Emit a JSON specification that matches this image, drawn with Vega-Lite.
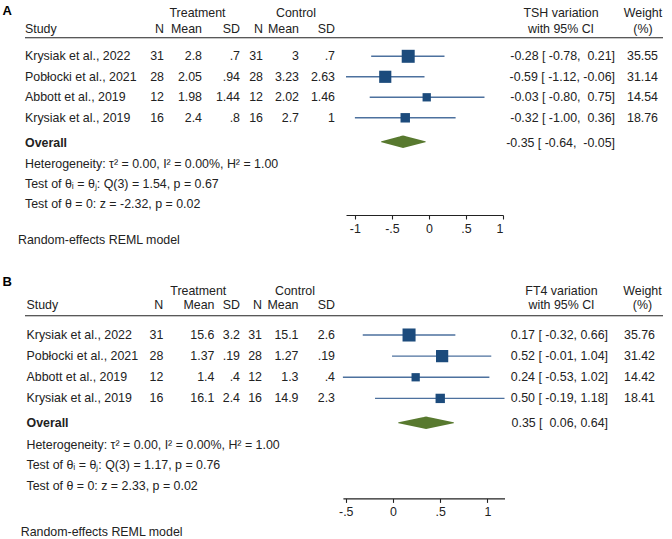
{
  "$schema": "https://vega.github.io/schema/vega-lite/v6.json",
  "background": "white",
  "padding": {"left": 2, "right": 0, "top": 2, "bottom": 0},
  "config": {
    "view": {"stroke": null},
    "text": {"font": "Liberation Sans", "fontSize": 12.4, "color": "#222222"},
    "axis": {"labelFont": "Liberation Sans"}
  },
  "spacing": 65,
  "bounds": "flush",
  "datasets": {
    "a_head": [
      {"line": "panel", "col": "panel", "text": "A"},
      {"line": "h1", "col": "treat", "text": "Treatment"},
      {"line": "h1", "col": "ctrl", "text": "Control"},
      {"line": "h1", "col": "ci", "text": "TSH variation"},
      {"line": "h1", "col": "wt", "text": "Weight"},
      {"line": "h2", "col": "study", "text": "Study"},
      {"line": "h2", "col": "n_t", "text": "N"},
      {"line": "h2", "col": "mean_t", "text": "Mean"},
      {"line": "h2", "col": "sd_t", "text": "SD"},
      {"line": "h2", "col": "n_c", "text": "N"},
      {"line": "h2", "col": "mean_c", "text": "Mean"},
      {"line": "h2", "col": "sd_c", "text": "SD"},
      {"line": "h2", "col": "ci", "text": "with 95% CI"},
      {"line": "h2", "col": "wt", "text": "(%)"}
    ],
    "a_studies": [
      {"study": "Krysiak et al., 2022", "n_t": 31, "mean_t": "2.8", "sd_t": ".7", "n_c": 31, "mean_c": "3", "sd_c": ".7", "es": -0.28, "lo": -0.78, "hi": 0.21, "ci": "-0.28 [ -0.78,\u00a0 0.21]", "weight": 35.55},
      {"study": "Pobłocki et al., 2021", "n_t": 28, "mean_t": "2.05", "sd_t": ".94", "n_c": 28, "mean_c": "3.23", "sd_c": "2.63", "es": -0.59, "lo": -1.12, "hi": -0.06, "ci": "-0.59 [ -1.12, -0.06]", "weight": 31.14},
      {"study": "Abbott et al., 2019", "n_t": 12, "mean_t": "1.98", "sd_t": "1.44", "n_c": 12, "mean_c": "2.02", "sd_c": "1.46", "es": -0.03, "lo": -0.80, "hi": 0.75, "ci": "-0.03 [ -0.80,\u00a0 0.75]", "weight": 14.54},
      {"study": "Krysiak et al., 2019", "n_t": 16, "mean_t": "2.4", "sd_t": ".8", "n_c": 16, "mean_c": "2.7", "sd_c": "1", "es": -0.32, "lo": -1.00, "hi": 0.36, "ci": "-0.32 [ -1.00,\u00a0 0.36]", "weight": 18.76}
    ],
    "a_overall": [
      {"label": "Overall", "es": -0.35, "lo": -0.64, "hi": -0.05, "ci": "-0.35 [ -0.64,\u00a0 -0.05]"}
    ],
    "a_notes": [
      {"line": "het", "text": "Heterogeneity: τ² = 0.00, I² = 0.00%, H² = 1.00"},
      {"line": "q", "text": "Test of θᵢ = θⱼ: Q(3) = 1.54, p = 0.67"},
      {"line": "z", "text": "Test of θ = 0: z = -2.32, p = 0.02"},
      {"line": "model", "text": "Random-effects REML model"}
    ],
    "b_head": [
      {"line": "panel", "col": "panel", "text": "B"},
      {"line": "h1", "col": "treat", "text": "Treatment"},
      {"line": "h1", "col": "ctrl", "text": "Control"},
      {"line": "h1", "col": "ci", "text": "FT4 variation"},
      {"line": "h1", "col": "wt", "text": "Weight"},
      {"line": "h2", "col": "study", "text": "Study"},
      {"line": "h2", "col": "n_t", "text": "N"},
      {"line": "h2", "col": "mean_t", "text": "Mean"},
      {"line": "h2", "col": "sd_t", "text": "SD"},
      {"line": "h2", "col": "n_c", "text": "N"},
      {"line": "h2", "col": "mean_c", "text": "Mean"},
      {"line": "h2", "col": "sd_c", "text": "SD"},
      {"line": "h2", "col": "ci", "text": "with 95% CI"},
      {"line": "h2", "col": "wt", "text": "(%)"}
    ],
    "b_studies": [
      {"study": "Krysiak et al., 2022", "n_t": 31, "mean_t": "15.6", "sd_t": "3.2", "n_c": 31, "mean_c": "15.1", "sd_c": "2.6", "es": 0.17, "lo": -0.32, "hi": 0.66, "ci": "0.17 [ -0.32, 0.66]", "weight": 35.76},
      {"study": "Pobłocki et al., 2021", "n_t": 28, "mean_t": "1.37", "sd_t": ".19", "n_c": 28, "mean_c": "1.27", "sd_c": ".19", "es": 0.52, "lo": -0.01, "hi": 1.04, "ci": "0.52 [ -0.01, 1.04]", "weight": 31.42},
      {"study": "Abbott et al., 2019", "n_t": 12, "mean_t": "1.4", "sd_t": ".4", "n_c": 12, "mean_c": "1.3", "sd_c": ".4", "es": 0.24, "lo": -0.53, "hi": 1.02, "ci": "0.24 [ -0.53, 1.02]", "weight": 14.42},
      {"study": "Krysiak et al., 2019", "n_t": 16, "mean_t": "16.1", "sd_t": "2.4", "n_c": 16, "mean_c": "14.9", "sd_c": "2.3", "es": 0.50, "lo": -0.19, "hi": 1.18, "ci": "0.50 [ -0.19, 1.18]", "weight": 18.41}
    ],
    "b_overall": [
      {"label": "Overall", "es": 0.35, "lo": 0.06, "hi": 0.64, "ci": "0.35 [\u00a0 0.06, 0.64]"}
    ],
    "b_notes": [
      {"line": "het", "text": "Heterogeneity: τ² = 0.00, I² = 0.00%, H² = 1.00"},
      {"line": "q", "text": "Test of θᵢ = θⱼ: Q(3) = 1.17, p = 0.76"},
      {"line": "z", "text": "Test of θ = 0: z = 2.33, p = 0.02"},
      {"line": "model", "text": "Random-effects REML model"}
    ]
  },
  "vconcat": [
    {
      "width": 638,
      "height": 213,
      "resolve": {"scale": {"x": "independent", "y": "independent", "size": "independent"}},
      "layer": [
        {"data": {"name": "a_head"}, "transform": [{"filter": "datum.col == 'panel'"}],
         "mark": {"type": "text", "align": "left", "fontWeight": "bold", "fontSize": 13, "color": "#000000"},
         "encoding": {
           "x": {"field": "col", "type": "nominal", "scale": {"type": "point", "domain": ["panel"], "range": [-22.5, -22.5], "padding": 0}, "axis": null},
           "y": {"field": "line", "type": "nominal", "scale": {"type": "point", "domain": ["panel"], "range": [9, 9], "padding": 0}, "axis": null},
           "text": {"field": "text"}}},
        {"data": {"name": "a_head"}, "transform": [{"filter": "datum.col == 'study'"}],
         "mark": {"type": "rule", "color": "#222222", "strokeWidth": 1.1},
         "encoding": {"y": {"datum": "rule", "type": "nominal", "scale": {"type": "point", "domain": ["rule"], "range": [35.7, 35.7], "padding": 0}, "axis": null}}},
        {"data": {"name": "a_head"}, "transform": [{"filter": {"field": "col", "oneOf": ["treat", "ctrl"]}}],
         "mark": {"type": "text", "align": "center"},
         "encoding": {
           "x": {"field": "col", "type": "nominal", "scale": {"type": "point", "domain": ["treat", "ctrl"], "range": [172.5, 271], "padding": 0}, "axis": null},
           "y": {"field": "line", "type": "nominal", "scale": {"type": "point", "domain": ["h1", "h2"], "range": [10.7, 26.7], "padding": 0}, "axis": null},
           "text": {"field": "text"}}},
        {"data": {"name": "a_head"}, "transform": [{"filter": {"field": "col", "oneOf": ["ci", "wt"]}}],
         "mark": {"type": "text", "align": "center"},
         "encoding": {
           "x": {"field": "col", "type": "nominal", "scale": {"type": "point", "domain": ["ci", "wt"], "range": [536, 618], "padding": 0}, "axis": null},
           "y": {"field": "line", "type": "nominal", "scale": {"type": "point", "domain": ["h1", "h2"], "range": [10.7, 26.7], "padding": 0}, "axis": null},
           "text": {"field": "text"}}},
        {"data": {"name": "a_head"}, "transform": [{"filter": "datum.col == 'study'"}],
         "mark": {"type": "text", "align": "left"},
         "encoding": {
           "x": {"field": "col", "type": "nominal", "scale": {"type": "point", "domain": ["study"], "range": [0, 0], "padding": 0}, "axis": null},
           "y": {"field": "line", "type": "nominal", "scale": {"type": "point", "domain": ["h1", "h2"], "range": [10.7, 26.7], "padding": 0}, "axis": null},
           "text": {"field": "text"}}},
        {"data": {"name": "a_head"}, "transform": [{"filter": {"field": "col", "oneOf": ["n_t", "mean_t", "sd_t"]}}],
         "mark": {"type": "text", "align": "right"},
         "encoding": {
           "x": {"field": "col", "type": "nominal", "scale": {"type": "point", "domain": ["n_t", "mean_t", "sd_t"], "range": [139, 215], "padding": 0}, "axis": null},
           "y": {"field": "line", "type": "nominal", "scale": {"type": "point", "domain": ["h1", "h2"], "range": [10.7, 26.7], "padding": 0}, "axis": null},
           "text": {"field": "text"}}},
        {"data": {"name": "a_head"}, "transform": [{"filter": {"field": "col", "oneOf": ["n_c", "mean_c", "sd_c"]}}],
         "mark": {"type": "text", "align": "right"},
         "encoding": {
           "x": {"field": "col", "type": "nominal", "scale": {"type": "point", "domain": ["n_c", "mean_c", "sd_c"], "range": [238, 310], "padding": 0}, "axis": null},
           "y": {"field": "line", "type": "nominal", "scale": {"type": "point", "domain": ["h1", "h2"], "range": [10.7, 26.7], "padding": 0}, "axis": null},
           "text": {"field": "text"}}},
        {"data": {"name": "a_studies"}, "transform": [{"fold": ["study"], "as": ["key", "val"]}],
         "mark": {"type": "text", "align": "left"},
         "encoding": {
           "x": {"field": "key", "type": "nominal", "scale": {"type": "point", "domain": ["study"], "range": [0, 0], "padding": 0}, "axis": null},
           "y": {"field": "study", "type": "nominal", "scale": {"type": "point", "domain": ["Krysiak et al., 2022", "Pobłocki et al., 2021", "Abbott et al., 2019", "Krysiak et al., 2019"], "range": [54.3, 115.8], "padding": 0}, "axis": null},
           "text": {"field": "val", "type": "nominal"}}},
        {"data": {"name": "a_studies"}, "transform": [{"fold": ["n_t", "mean_t", "sd_t"], "as": ["key", "val"]}],
         "mark": {"type": "text", "align": "right"},
         "encoding": {
           "x": {"field": "key", "type": "nominal", "scale": {"type": "point", "domain": ["n_t", "mean_t", "sd_t"], "range": [139, 215], "padding": 0}, "axis": null},
           "y": {"field": "study", "type": "nominal", "scale": {"type": "point", "domain": ["Krysiak et al., 2022", "Pobłocki et al., 2021", "Abbott et al., 2019", "Krysiak et al., 2019"], "range": [54.3, 115.8], "padding": 0}, "axis": null},
           "text": {"field": "val", "type": "nominal"}}},
        {"data": {"name": "a_studies"}, "transform": [{"fold": ["n_c", "mean_c", "sd_c"], "as": ["key", "val"]}],
         "mark": {"type": "text", "align": "right"},
         "encoding": {
           "x": {"field": "key", "type": "nominal", "scale": {"type": "point", "domain": ["n_c", "mean_c", "sd_c"], "range": [238, 310], "padding": 0}, "axis": null},
           "y": {"field": "study", "type": "nominal", "scale": {"type": "point", "domain": ["Krysiak et al., 2022", "Pobłocki et al., 2021", "Abbott et al., 2019", "Krysiak et al., 2019"], "range": [54.3, 115.8], "padding": 0}, "axis": null},
           "text": {"field": "val", "type": "nominal"}}},
        {"data": {"name": "a_studies"}, "transform": [{"fold": ["ci", "weight"], "as": ["key", "val"]}],
         "mark": {"type": "text", "align": "right"},
         "encoding": {
           "x": {"field": "key", "type": "nominal", "scale": {"type": "point", "domain": ["ci", "weight"], "range": [590, 633], "padding": 0}, "axis": null},
           "y": {"field": "study", "type": "nominal", "scale": {"type": "point", "domain": ["Krysiak et al., 2022", "Pobłocki et al., 2021", "Abbott et al., 2019", "Krysiak et al., 2019"], "range": [54.3, 115.8], "padding": 0}, "axis": null},
           "text": {"field": "val", "type": "nominal"}}},
        {"data": {"name": "a_overall"}, "transform": [{"fold": ["label"], "as": ["key", "val"]}],
         "mark": {"type": "text", "align": "left", "fontWeight": "bold"},
         "encoding": {
           "x": {"field": "key", "type": "nominal", "scale": {"type": "point", "domain": ["label"], "range": [0, 0], "padding": 0}, "axis": null},
           "y": {"field": "label", "type": "nominal", "scale": {"type": "point", "domain": ["Overall"], "range": [140.7, 140.7], "padding": 0}, "axis": null},
           "text": {"field": "val", "type": "nominal"}}},
        {"data": {"name": "a_overall"}, "transform": [{"fold": ["ci"], "as": ["key", "val"]}],
         "mark": {"type": "text", "align": "right"},
         "encoding": {
           "x": {"field": "key", "type": "nominal", "scale": {"type": "point", "domain": ["ci", "weight"], "range": [590, 633], "padding": 0}, "axis": null},
           "y": {"field": "label", "type": "nominal", "scale": {"type": "point", "domain": ["Overall"], "range": [140.7, 140.7], "padding": 0}, "axis": null},
           "text": {"field": "val", "type": "nominal"}}},
        {"data": {"name": "a_notes"}, "transform": [{"filter": "datum.line != 'model'"}, {"fold": ["text"], "as": ["key", "val"]}],
         "mark": {"type": "text", "align": "left"},
         "encoding": {
           "x": {"field": "key", "type": "nominal", "scale": {"type": "point", "domain": ["text"], "range": [0, 0], "padding": 0}, "axis": null},
           "y": {"field": "line", "type": "nominal", "scale": {"type": "point", "domain": ["het", "q", "z"], "range": [161.7, 201.7], "padding": 0}, "axis": null},
           "text": {"field": "val", "type": "nominal"}}},
        {"data": {"name": "a_notes"}, "transform": [{"filter": "datum.line == 'model'"}, {"fold": ["text"], "as": ["key", "val"]}],
         "mark": {"type": "text", "align": "left"},
         "encoding": {
           "x": {"field": "key", "type": "nominal", "scale": {"type": "point", "domain": ["text"], "range": [-7, -7], "padding": 0}, "axis": null},
           "y": {"field": "line", "type": "nominal", "scale": {"type": "point", "domain": ["model"], "range": [238.3, 238.3], "padding": 0}, "axis": null},
           "text": {"field": "val", "type": "nominal"}}},
        {"data": {"name": "a_studies"},
         "mark": {"type": "rule", "color": "#4d719e", "strokeWidth": 1.4},
         "encoding": {
           "x": {"field": "lo", "type": "quantitative", "scale": {"domain": [-1.12, 1], "range": [321, 478], "nice": false, "zero": false},
                 "axis": {"orient": "bottom", "values": [-1, -0.5, 0, 0.5, 1], "labelExpr": "datum.value == -1 ? '-1' : datum.value == -0.5 ? '-.5' : datum.value == 0.5 ? '.5' : datum.value == 1 ? '1' : '0'", "title": null, "grid": false, "domainColor": "#222222", "tickColor": "#222222", "labelColor": "#222222", "labelFontSize": 12.4, "tickSize": 4, "labelPadding": 3, "domainWidth": 1.1, "tickWidth": 1.1}},
           "x2": {"field": "hi"},
           "y": {"field": "study", "type": "nominal", "scale": {"type": "point", "domain": ["Krysiak et al., 2022", "Pobłocki et al., 2021", "Abbott et al., 2019", "Krysiak et al., 2019"], "range": [54.3, 115.8], "padding": 0}, "axis": null}}},
        {"data": {"name": "a_studies"},
         "mark": {"type": "point", "shape": "square", "filled": true, "color": "#1c4b7c", "opacity": 1},
         "encoding": {
           "x": {"field": "es", "type": "quantitative", "scale": {"domain": [-1.12, 1], "range": [321, 478], "nice": false, "zero": false}, "axis": null},
           "y": {"field": "study", "type": "nominal", "scale": {"type": "point", "domain": ["Krysiak et al., 2022", "Pobłocki et al., 2021", "Abbott et al., 2019", "Krysiak et al., 2019"], "range": [54.3, 115.8], "padding": 0}, "axis": null},
           "size": {"field": "weight", "type": "quantitative", "scale": {"domain": [0, 40], "range": [0, 190], "zero": true}, "legend": null}}},
        {"data": {"name": "a_overall"}, "transform": [{"fold": ["lo", "es", "hi"], "as": ["k", "v"]}],
         "mark": {"type": "trail", "color": "#58792f"},
         "encoding": {
           "x": {"field": "v", "type": "quantitative", "scale": {"domain": [-1.12, 1], "range": [321, 478], "nice": false, "zero": false}, "axis": null},
           "y": {"field": "label", "type": "nominal", "scale": {"type": "point", "domain": ["Overall"], "range": [139.7, 139.7], "padding": 0}, "axis": null},
           "size": {"field": "k", "type": "ordinal", "scale": {"type": "ordinal", "domain": ["lo", "es", "hi"], "range": [0, 12.5, 0]}, "legend": null},
           "order": {"field": "v", "type": "quantitative"}}}
      ]
    },
    {
      "width": 638,
      "height": 218.4,
      "resolve": {"scale": {"x": "independent", "y": "independent", "size": "independent"}},
      "layer": [
        {"data": {"name": "b_head"}, "transform": [{"filter": "datum.col == 'panel'"}],
         "mark": {"type": "text", "align": "left", "fontWeight": "bold", "fontSize": 13, "color": "#000000"},
         "encoding": {
           "x": {"field": "col", "type": "nominal", "scale": {"type": "point", "domain": ["panel"], "range": [-22.5, -22.5], "padding": 0}, "axis": null},
           "y": {"field": "line", "type": "nominal", "scale": {"type": "point", "domain": ["panel"], "range": [1.7, 1.7], "padding": 0}, "axis": null},
           "text": {"field": "text"}}},
        {"data": {"name": "b_head"}, "transform": [{"filter": "datum.col == 'study'"}],
         "mark": {"type": "rule", "color": "#222222", "strokeWidth": 1.1},
         "encoding": {"y": {"datum": "rule", "type": "nominal", "scale": {"type": "point", "domain": ["rule"], "range": [35.7, 35.7], "padding": 0}, "axis": null}}},
        {"data": {"name": "b_head"}, "transform": [{"filter": {"field": "col", "oneOf": ["treat", "ctrl"]}}],
         "mark": {"type": "text", "align": "center"},
         "encoding": {
           "x": {"field": "col", "type": "nominal", "scale": {"type": "point", "domain": ["treat", "ctrl"], "range": [173.3, 270], "padding": 0}, "axis": null},
           "y": {"field": "line", "type": "nominal", "scale": {"type": "point", "domain": ["h1", "h2"], "range": [10.7, 25], "padding": 0}, "axis": null},
           "text": {"field": "text"}}},
        {"data": {"name": "b_head"}, "transform": [{"filter": {"field": "col", "oneOf": ["ci", "wt"]}}],
         "mark": {"type": "text", "align": "center"},
         "encoding": {
           "x": {"field": "col", "type": "nominal", "scale": {"type": "point", "domain": ["ci", "wt"], "range": [536.5, 617.5], "padding": 0}, "axis": null},
           "y": {"field": "line", "type": "nominal", "scale": {"type": "point", "domain": ["h1", "h2"], "range": [10.7, 25], "padding": 0}, "axis": null},
           "text": {"field": "text"}}},
        {"data": {"name": "b_head"}, "transform": [{"filter": "datum.col == 'study'"}],
         "mark": {"type": "text", "align": "left"},
         "encoding": {
           "x": {"field": "col", "type": "nominal", "scale": {"type": "point", "domain": ["study"], "range": [1.5, 1.5], "padding": 0}, "axis": null},
           "y": {"field": "line", "type": "nominal", "scale": {"type": "point", "domain": ["h1", "h2"], "range": [10.7, 25], "padding": 0}, "axis": null},
           "text": {"field": "text"}}},
        {"data": {"name": "b_head"}, "transform": [{"filter": {"field": "col", "oneOf": ["n_t", "mean_t", "sd_t"]}}],
         "mark": {"type": "text", "align": "right"},
         "encoding": {
           "x": {"field": "col", "type": "nominal", "scale": {"type": "point", "domain": ["n_t", "gap_t", "mean_t", "sd_t"], "range": [138.3, 215], "padding": 0}, "axis": null},
           "y": {"field": "line", "type": "nominal", "scale": {"type": "point", "domain": ["h1", "h2"], "range": [10.7, 25], "padding": 0}, "axis": null},
           "text": {"field": "text"}}},
        {"data": {"name": "b_head"}, "transform": [{"filter": {"field": "col", "oneOf": ["n_c", "mean_c", "sd_c"]}}],
         "mark": {"type": "text", "align": "right"},
         "encoding": {
           "x": {"field": "col", "type": "nominal", "scale": {"type": "point", "domain": ["n_c", "mean_c", "sd_c"], "range": [237, 310], "padding": 0}, "axis": null},
           "y": {"field": "line", "type": "nominal", "scale": {"type": "point", "domain": ["h1", "h2"], "range": [10.7, 25], "padding": 0}, "axis": null},
           "text": {"field": "text"}}},
        {"data": {"name": "b_studies"}, "transform": [{"fold": ["study"], "as": ["key", "val"]}],
         "mark": {"type": "text", "align": "left"},
         "encoding": {
           "x": {"field": "key", "type": "nominal", "scale": {"type": "point", "domain": ["study"], "range": [1.5, 1.5], "padding": 0}, "axis": null},
           "y": {"field": "study", "type": "nominal", "scale": {"type": "point", "domain": ["Krysiak et al., 2022", "Pobłocki et al., 2021", "Abbott et al., 2019", "Krysiak et al., 2019"], "range": [55, 118.4], "padding": 0}, "axis": null},
           "text": {"field": "val", "type": "nominal"}}},
        {"data": {"name": "b_studies"}, "transform": [{"fold": ["n_t", "mean_t", "sd_t"], "as": ["key", "val"]}],
         "mark": {"type": "text", "align": "right"},
         "encoding": {
           "x": {"field": "key", "type": "nominal", "scale": {"type": "point", "domain": ["n_t", "gap_t", "mean_t", "sd_t"], "range": [138.3, 215], "padding": 0}, "axis": null},
           "y": {"field": "study", "type": "nominal", "scale": {"type": "point", "domain": ["Krysiak et al., 2022", "Pobłocki et al., 2021", "Abbott et al., 2019", "Krysiak et al., 2019"], "range": [55, 118.4], "padding": 0}, "axis": null},
           "text": {"field": "val", "type": "nominal"}}},
        {"data": {"name": "b_studies"}, "transform": [{"fold": ["n_c", "mean_c", "sd_c"], "as": ["key", "val"]}],
         "mark": {"type": "text", "align": "right"},
         "encoding": {
           "x": {"field": "key", "type": "nominal", "scale": {"type": "point", "domain": ["n_c", "mean_c", "sd_c"], "range": [237, 310], "padding": 0}, "axis": null},
           "y": {"field": "study", "type": "nominal", "scale": {"type": "point", "domain": ["Krysiak et al., 2022", "Pobłocki et al., 2021", "Abbott et al., 2019", "Krysiak et al., 2019"], "range": [55, 118.4], "padding": 0}, "axis": null},
           "text": {"field": "val", "type": "nominal"}}},
        {"data": {"name": "b_studies"}, "transform": [{"fold": ["ci", "weight"], "as": ["key", "val"]}],
         "mark": {"type": "text", "align": "right"},
         "encoding": {
           "x": {"field": "key", "type": "nominal", "scale": {"type": "point", "domain": ["ci", "weight"], "range": [583, 630], "padding": 0}, "axis": null},
           "y": {"field": "study", "type": "nominal", "scale": {"type": "point", "domain": ["Krysiak et al., 2022", "Pobłocki et al., 2021", "Abbott et al., 2019", "Krysiak et al., 2019"], "range": [55, 118.4], "padding": 0}, "axis": null},
           "text": {"field": "val", "type": "nominal"}}},
        {"data": {"name": "b_overall"}, "transform": [{"fold": ["label"], "as": ["key", "val"]}],
         "mark": {"type": "text", "align": "left", "fontWeight": "bold"},
         "encoding": {
           "x": {"field": "key", "type": "nominal", "scale": {"type": "point", "domain": ["label"], "range": [1.5, 1.5], "padding": 0}, "axis": null},
           "y": {"field": "label", "type": "nominal", "scale": {"type": "point", "domain": ["Overall"], "range": [143.4, 143.4], "padding": 0}, "axis": null},
           "text": {"field": "val", "type": "nominal"}}},
        {"data": {"name": "b_overall"}, "transform": [{"fold": ["ci"], "as": ["key", "val"]}],
         "mark": {"type": "text", "align": "right"},
         "encoding": {
           "x": {"field": "key", "type": "nominal", "scale": {"type": "point", "domain": ["ci", "weight"], "range": [583, 630], "padding": 0}, "axis": null},
           "y": {"field": "label", "type": "nominal", "scale": {"type": "point", "domain": ["Overall"], "range": [143.4, 143.4], "padding": 0}, "axis": null},
           "text": {"field": "val", "type": "nominal"}}},
        {"data": {"name": "b_notes"}, "transform": [{"filter": "datum.line != 'model'"}, {"fold": ["text"], "as": ["key", "val"]}],
         "mark": {"type": "text", "align": "left"},
         "encoding": {
           "x": {"field": "key", "type": "nominal", "scale": {"type": "point", "domain": ["text"], "range": [1.5, 1.5], "padding": 0}, "axis": null},
           "y": {"field": "line", "type": "nominal", "scale": {"type": "point", "domain": ["het", "q", "z"], "range": [165, 205.7], "padding": 0}, "axis": null},
           "text": {"field": "val", "type": "nominal"}}},
        {"data": {"name": "b_notes"}, "transform": [{"filter": "datum.line == 'model'"}, {"fold": ["text"], "as": ["key", "val"]}],
         "mark": {"type": "text", "align": "left"},
         "encoding": {
           "x": {"field": "key", "type": "nominal", "scale": {"type": "point", "domain": ["text"], "range": [-4.3, -4.3], "padding": 0}, "axis": null},
           "y": {"field": "line", "type": "nominal", "scale": {"type": "point", "domain": ["model"], "range": [252.4, 252.4], "padding": 0}, "axis": null},
           "text": {"field": "val", "type": "nominal"}}},
        {"data": {"name": "b_studies"},
         "mark": {"type": "rule", "color": "#4d719e", "strokeWidth": 1.4},
         "encoding": {
           "x": {"field": "lo", "type": "quantitative", "scale": {"domain": [-0.53, 1.18], "range": [317.9, 479.5], "nice": false, "zero": false},
                 "axis": {"orient": "bottom", "values": [-0.5, 0, 0.5, 1], "labelExpr": "datum.value == -1 ? '-1' : datum.value == -0.5 ? '-.5' : datum.value == 0.5 ? '.5' : datum.value == 1 ? '1' : '0'", "title": null, "grid": false, "domainColor": "#222222", "tickColor": "#222222", "labelColor": "#222222", "labelFontSize": 12.4, "tickSize": 4, "labelPadding": 3.5, "domainWidth": 1.1, "tickWidth": 1.1}},
           "x2": {"field": "hi"},
           "y": {"field": "study", "type": "nominal", "scale": {"type": "point", "domain": ["Krysiak et al., 2022", "Pobłocki et al., 2021", "Abbott et al., 2019", "Krysiak et al., 2019"], "range": [55, 118.4], "padding": 0}, "axis": null}}},
        {"data": {"name": "b_studies"},
         "mark": {"type": "point", "shape": "square", "filled": true, "color": "#1c4b7c", "opacity": 1},
         "encoding": {
           "x": {"field": "es", "type": "quantitative", "scale": {"domain": [-0.53, 1.18], "range": [317.9, 479.5], "nice": false, "zero": false}, "axis": null},
           "y": {"field": "study", "type": "nominal", "scale": {"type": "point", "domain": ["Krysiak et al., 2022", "Pobłocki et al., 2021", "Abbott et al., 2019", "Krysiak et al., 2019"], "range": [55, 118.4], "padding": 0}, "axis": null},
           "size": {"field": "weight", "type": "quantitative", "scale": {"domain": [0, 40], "range": [0, 190], "zero": true}, "legend": null}}},
        {"data": {"name": "b_overall"}, "transform": [{"fold": ["lo", "es", "hi"], "as": ["k", "v"]}],
         "mark": {"type": "trail", "color": "#58792f"},
         "encoding": {
           "x": {"field": "v", "type": "quantitative", "scale": {"domain": [-0.53, 1.18], "range": [317.9, 479.5], "nice": false, "zero": false}, "axis": null},
           "y": {"field": "label", "type": "nominal", "scale": {"type": "point", "domain": ["Overall"], "range": [142.7, 142.7], "padding": 0}, "axis": null},
           "size": {"field": "k", "type": "ordinal", "scale": {"type": "ordinal", "domain": ["lo", "es", "hi"], "range": [0, 12.5, 0]}, "legend": null},
           "order": {"field": "v", "type": "quantitative"}}}
      ]
    }
  ]
}
